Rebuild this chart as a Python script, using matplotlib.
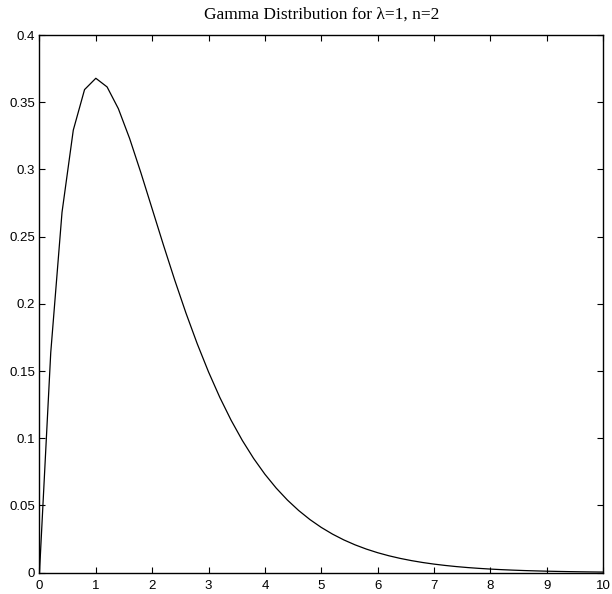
import matplotlib.pyplot as plt

x_vals = [0.0, 0.2, 0.4, 0.6, 0.8, 1.0, 1.2, 1.4, 1.6, 1.8,
          2.0, 2.2, 2.4, 2.6, 2.8, 3.0, 3.2, 3.4, 3.6, 3.8,
          4.0, 4.2, 4.4, 4.6, 4.8, 5.0, 5.2, 5.4, 5.6, 5.8,
          6.0, 6.2, 6.4, 6.6, 6.8, 7.0, 7.2, 7.4, 7.6, 7.8,
          8.0, 8.2, 8.4, 8.6, 8.8, 9.0, 9.2, 9.4, 9.6, 9.8, 10.0]
y_vals = [0.0, 0.16375, 0.26813, 0.32929, 0.35946, 0.36788, 0.36143, 0.34524, 0.32303, 0.29754,
          0.27067, 0.24377, 0.21772, 0.19311, 0.17027, 0.14936, 0.13044, 0.11347, 0.09837, 0.08501,
          0.07326, 0.06298, 0.05402, 0.04624, 0.03950, 0.03369, 0.02869, 0.02439, 0.02071, 0.01756,
          0.01487, 0.01258, 0.01063, 0.00898, 0.00757, 0.00638, 0.00538, 0.00452, 0.00380, 0.00320,
          0.00268, 0.00225, 0.00189, 0.00158, 0.00133, 0.00111, 0.00093, 0.00078, 0.00065, 0.00054, 0.00045]

x_ticks = [0, 1, 2, 3, 4, 5, 6, 7, 8, 9, 10]
y_ticks = [0, 0.05, 0.1, 0.15, 0.2, 0.25, 0.3, 0.35, 0.4]
y_labels = ['0', '0.05', '0.1', '0.15', '0.2', '0.25', '0.3', '0.35', '0.4']

fig = plt.figure(figsize=(6.12, 5.94), dpi=100)
ax = fig.add_axes([0.0645, 0.0359, 0.9208, 0.905])

ax.plot(x_vals, y_vals, color='black', linewidth=0.9)

ax.set_xlim(0, 10)
ax.set_ylim(0, 0.4)
ax.set_xticks(x_ticks)
ax.set_xticklabels([str(t) for t in x_ticks])
ax.set_yticks(y_ticks)
ax.set_yticklabels(y_labels)
ax.tick_params(direction='in', top=True, right=True, length=4.3, width=0.8,
               labelsize=9.5)
ax.tick_params(axis='x', pad=5)
ax.tick_params(axis='y', pad=3)
for lab in ax.get_xticklabels() + ax.get_yticklabels():
    lab.set_family('Liberation Sans')
for sp in ax.spines.values():
    sp.set_linewidth(1.0)

ax.set_title('Gamma Distribution for \u03bb=1, n=2', family='Liberation Serif',
             fontsize=12.5, pad=12)

fig.savefig('out.png', dpi=100)
